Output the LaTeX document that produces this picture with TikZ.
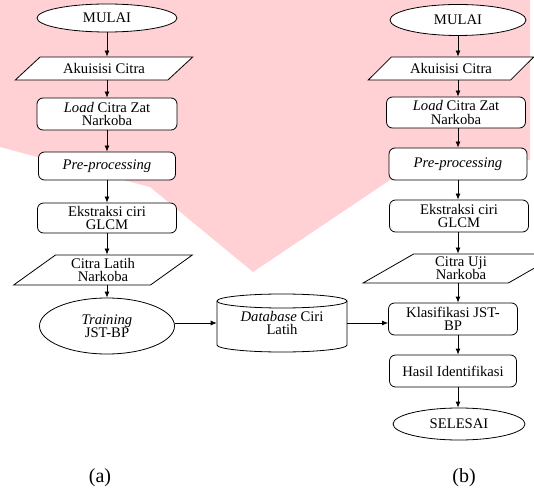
\documentclass[tikz,border=0pt]{standalone}
\usepackage{fontspec}
\setmainfont{Liberation Serif}
\usetikzlibrary{shapes.geometric,arrows.meta}
\definecolor{wmpink}{RGB}{255,209,213}

\begin{document}
\begin{tikzpicture}[x=0.75pt,y=-0.75pt]
    \tikzstyle{every node}=[font=\fontsize{11}{10}\selectfont,align=center,
                            inner sep=0pt]
    \tikzstyle{term}=[draw,ellipse,fill=white,line width=0.6pt]
    \tikzstyle{proc}=[draw,rounded corners=4.5pt,fill=white,line width=0.6pt]
    \tikzstyle{io}=[draw,trapezium,trapezium stretches=true,fill=white,
                    line width=0.6pt]
    \tikzstyle{arr}=[-{Latex[length=4.5pt,width=3.75pt]},line width=0.6pt]

      \useasboundingbox (0,0) rectangle (534,491);
      \fill[wmpink] (0,0) -- (530,0) -- (530,160) -- (390,180) -- (253,272)
        -- (150,187) -- (0,147) -- cycle;

      \node (mulaiA) [term,minimum width=105pt,minimum height=21pt] at (107,18) {MULAI};
      \node (akuA) [io,trapezium left angle=33,trapezium right angle=147,
        minimum width=133.5pt,minimum height=17.25pt] at (104,68.5) {Akuisisi Citra};
      \node (loadA) [proc,minimum width=105pt,minimum height=24pt] at (107,114)
        {\textit{Load} Citra Zat\\Narkoba};
      \node (preA) [proc,minimum width=102.75pt,minimum height=21pt] at (107,166)
        {\textit{Pre-processing}};
      \node (ekstA) [proc,minimum width=104.25pt,minimum height=22.5pt] at (107,218)
        {Ekstraksi ciri\\GLCM};
      \node (latihA) [io,trapezium left angle=40,trapezium right angle=140,
        minimum width=135pt,minimum height=22.5pt] at (103,270) {Citra Latih\\Narkoba};
      \node (trainA) [term,minimum width=101.25pt,minimum height=42pt] at (107,326)
        {\textit{Training}\\JST-BP};

      \draw[fill=white,line width=0.6pt] (217,301) -- (217,345)
        arc[start angle=180,end angle=360,x radius=48.75pt,y radius=5.25pt] -- (347,301)
        arc[start angle=0,end angle=180,x radius=48.75pt,y radius=5.25pt] -- cycle;
      \draw[line width=0.6pt] (217,301)
        arc[start angle=180,end angle=360,x radius=48.75pt,y radius=5.25pt];
      \node (db) [minimum width=97.5pt,minimum height=33pt] at (282,323)
        {\textit{Database} Ciri\\Latih};

      \node (mulaiB) [term,minimum width=102pt,minimum height=23.25pt] at (458,20) {MULAI};
      \node (akuB) [io,trapezium left angle=33,trapezium right angle=147,
        minimum width=124.5pt,minimum height=17.25pt] at (451,68.5) {Akuisisi Citra};
      \node (loadB) [proc,minimum width=104.25pt,minimum height=23.25pt] at (456,112.5)
        {\textit{Load} Citra Zat\\Narkoba};
      \node (preB) [proc,minimum width=103.5pt,minimum height=24pt] at (458,164)
        {\textit{Pre-processing}};
      \node (ekstB) [proc,minimum width=104.25pt,minimum height=24pt] at (459,216)
        {Ekstraksi ciri\\GLCM};
      \node (ujiB) [io,trapezium left angle=40,trapezium right angle=140,
        minimum width=147.75pt,minimum height=21.75pt] at (461,268.5) {Citra Uji\\Narkoba};
      \node (klasB) [proc,minimum width=96.75pt,minimum height=24pt] at (453,319)
        {Klasifikasi JST-\\BP};
      \node (hasilB) [proc,minimum width=95.25pt,minimum height=24pt] at (453,371)
        {Hasil Identifikasi};
      \node (selesaiB) [term,minimum width=99pt,minimum height=24pt] at (459,424) {SELESAI};

      \node (labA) [font=\fontsize{15}{18}\selectfont] at (100,478) {(a)};
      \node (labB) [font=\fontsize{15}{18}\selectfont] at (464,478) {(b)};

      \draw[arr] (mulaiA) -- (mulaiA |- akuA.north);
      \draw[arr] (akuA.south -| mulaiA) -- (loadA);
      \draw[arr] (loadA) -- (preA);
      \draw[arr] (preA) -- (ekstA);
      \draw[arr] (ekstA) -- (ekstA |- latihA.north);
      \draw[arr] (latihA.south -| ekstA) -- (trainA);
      \draw[arr] (trainA.east |- db.west) -- (db.west);
      \draw[arr] (db.east) -- (db.east -| klasB.west);

      \draw[arr] (mulaiB) -- (mulaiB |- akuB.north);
      \draw[arr] (akuB.south -| mulaiB) -- (mulaiB |- loadB.north);
      \draw[arr] (loadB.south -| mulaiB) -- (preB);
      \draw[arr] (preB) -- (preB |- ekstB.north);
      \draw[arr] (ekstB.south -| preB) -- (preB |- ujiB.north);
      \draw[arr] (ujiB.south -| preB) -- (preB |- klasB.north);
      \draw[arr] (klasB.south -| preB) -- (preB |- hasilB.north);
      \draw[arr] (hasilB.south -| preB) -- (preB |- selesaiB.north);
    \end{tikzpicture}
\end{document}
